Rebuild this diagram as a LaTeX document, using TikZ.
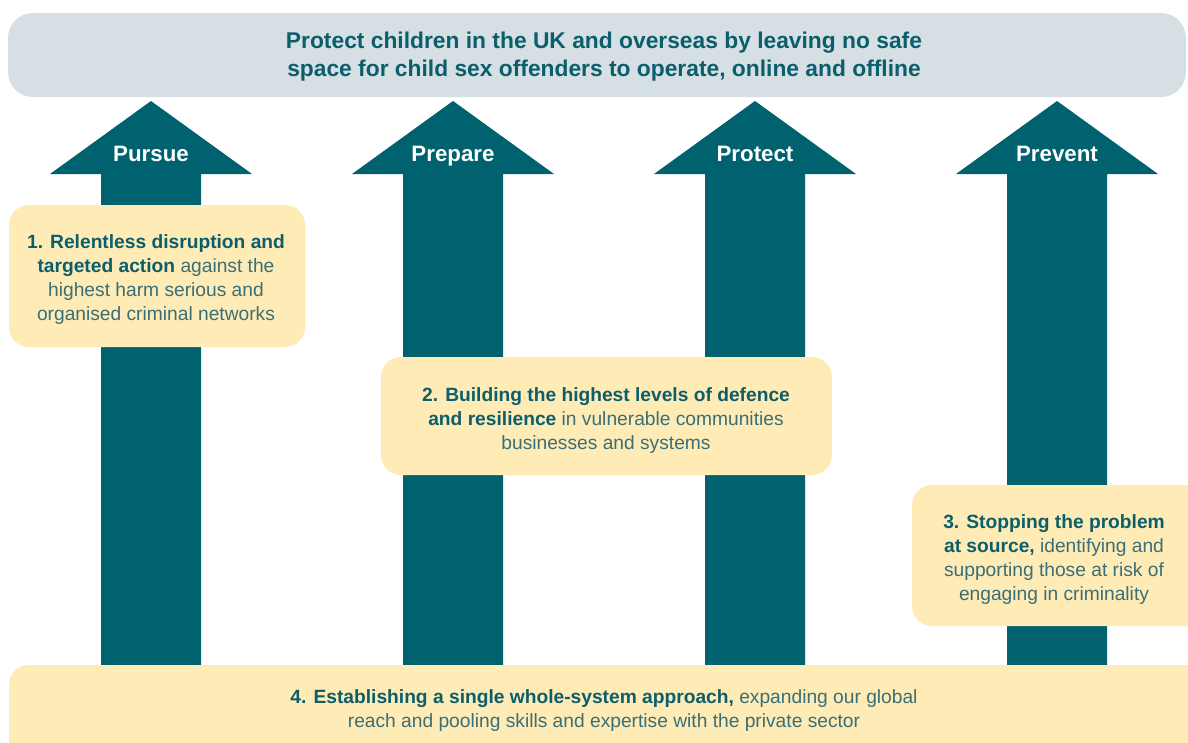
\documentclass[tikz,border=0pt]{standalone}
\usepackage{fontspec}
\setmainfont{Liberation Sans}
\definecolor{teal1}{HTML}{00616F}
\definecolor{tealtxt}{HTML}{0B5E6B}
\definecolor{tealreg}{HTML}{3A6F78}
\definecolor{banner}{HTML}{D6DFE4}
\definecolor{ybox}{HTML}{FEEBB5}
\tikzset{
  arrowbody/.style={fill=teal1, draw=none},
  arrowlabel/.style={text=white, font=\fontsize{22.3}{26}\selectfont\bfseries, inner sep=0pt, anchor=base},
  yellowbox/.style={fill=ybox, draw=none, rounded corners=20pt},
  boxtext/.style={text=tealreg, align=center, inner sep=0pt, font=\fontsize{19.2}{24}\selectfont},
  titletext/.style={text=tealtxt, align=center, inner sep=0pt, font=\fontsize{22.8}{28}\selectfont\bfseries}
}
\newcommand{\bt}[1]{{\bfseries\color{tealtxt}#1}}
\begin{document}
\begin{tikzpicture}[x=1pt,y=-1pt]
\useasboundingbox (0,0) rectangle (1188,742);
\clip (0,0) rectangle (1188,742);
% banner
\fill[banner, rounded corners=25pt] (8,13) rectangle (1186,97);
\node[titletext] (goal) at (604,57) {Protect children in the UK and overseas by leaving no safe\\space for child sex offenders to operate, online and offline};
% arrows
\foreach \cx/\nm/\lab in {151/pursue/Pursue, 453/prepare/Prepare, 755/protect/Protect, 1057/prevent/Prevent}{
  \fill[arrowbody] (\cx-50,690) -- (\cx-50,174) -- (\cx-101,174) -- (\cx,101) -- (\cx+101,174) -- (\cx+50,174) -- (\cx+50,690) -- cycle;
  \node[arrowlabel] (\nm) at (\cx,161) {\lab};
}
% box 1
\node[yellowbox, minimum width=296pt, minimum height=142pt, inner sep=0pt] (box1) at (157,276) {};
\node[boxtext] (t1) at (156,280) {\bt{1. Relentless disruption and}\\\bt{targeted action} against the\\highest harm serious and\\organised criminal networks};
% box 2
\node[yellowbox, minimum width=451pt, minimum height=118pt, inner sep=0pt] (box2) at (606.5,416) {};
\node[boxtext] (t2) at (606,421) {\bt{2. Building the highest levels of defence}\\\bt{and resilience} in vulnerable communities\\businesses and systems};
% box 3
\fill[yellowbox] (912,485) rectangle (1230,626);
\node[boxtext] (t3) at (1054,560) {\bt{3. Stopping the problem}\\\bt{at source,} identifying and\\supporting those at risk of\\engaging in criminality};
% box 4
\fill[yellowbox] (9,665) rectangle (1230,790);
\node[boxtext] (t4) at (604,711) {\bt{4. Establishing a single whole-system approach,} expanding our global\\reach and pooling skills and expertise with the private sector};
\end{tikzpicture}
\end{document}
